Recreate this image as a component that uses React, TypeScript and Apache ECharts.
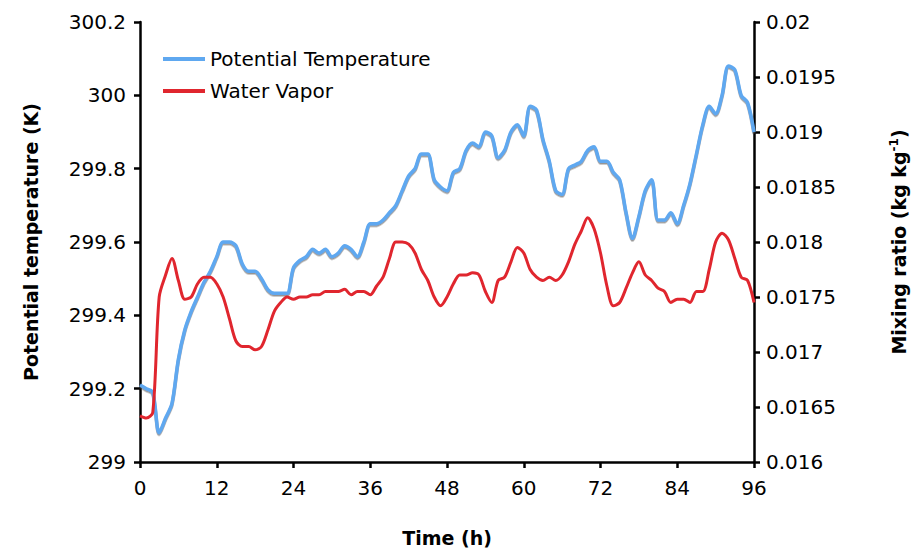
import React, { useEffect, useRef } from "react";
import * as echarts from "echarts";

const hours = Array.from({ length: 97 }, (_, i) => i);

const potentialTemp = [
  299.21, 299.2, 299.19, 299.08, 299.12, 299.16, 299.28, 299.36, 299.41, 299.45,
  299.49, 299.52, 299.56, 299.6, 299.6, 299.59, 299.54, 299.52, 299.52, 299.5,
  299.47, 299.46, 299.46, 299.46, 299.53, 299.55, 299.56, 299.58, 299.57, 299.58,
  299.56, 299.57, 299.59, 299.58, 299.56, 299.6, 299.65, 299.65, 299.66, 299.68,
  299.7, 299.74, 299.78, 299.8, 299.84, 299.84, 299.77, 299.75, 299.74, 299.79,
  299.8, 299.85, 299.87, 299.86, 299.9, 299.89, 299.83, 299.85, 299.9, 299.92,
  299.89, 299.97, 299.96, 299.88, 299.82, 299.74, 299.73, 299.8, 299.81, 299.82,
  299.85, 299.86, 299.82, 299.82, 299.79, 299.77, 299.68, 299.61, 299.67, 299.74,
  299.77, 299.66, 299.66, 299.68, 299.65, 299.7, 299.76, 299.84, 299.92, 299.97,
  299.95, 300.0, 300.08, 300.07, 300.0, 299.98, 299.9,
];

const waterVapor = [
  0.01642, 0.0164, 0.01645, 0.0175, 0.0177, 0.01785, 0.01765, 0.01748, 0.0175, 0.01762,
  0.01768, 0.01768, 0.01762, 0.0175, 0.0173, 0.0171, 0.01705, 0.01705, 0.01702, 0.01705,
  0.0172, 0.01737, 0.01745, 0.0175, 0.01748, 0.0175, 0.0175, 0.01752, 0.01752, 0.01755,
  0.01755, 0.01755, 0.01757, 0.01752, 0.01755, 0.01755, 0.01752, 0.0176, 0.01768, 0.01785,
  0.018, 0.018, 0.01798, 0.0179, 0.01775, 0.01765, 0.0175, 0.01742, 0.0175, 0.01762,
  0.0177, 0.0177, 0.01772, 0.0177, 0.01755, 0.01745, 0.01765, 0.01768, 0.01782, 0.01795,
  0.0179, 0.01775, 0.01768, 0.01765, 0.01768, 0.01765, 0.0177, 0.01782, 0.01798, 0.0181,
  0.01822, 0.01812, 0.0179, 0.0176, 0.01742, 0.01745, 0.01758, 0.01772, 0.01782, 0.0177,
  0.01765, 0.01758, 0.01755, 0.01745, 0.01748, 0.01748, 0.01745, 0.01755, 0.01755, 0.01775,
  0.018, 0.01808, 0.01802, 0.01785, 0.01768, 0.01765, 0.01745,
];

const font = "DejaVu Sans, Verdana, sans-serif";
const axisLine = { show: true, lineStyle: { color: "#000", width: 2.5 } };
const axisTick = { show: true, length: 6, lineStyle: { color: "#000", width: 2.5 } };
const axisLabel = { color: "#000", fontSize: 20, fontFamily: font };
const nameStyle = { color: "#000", fontSize: 19, fontWeight: "bold" as const, fontFamily: font };

const App: React.FC = () => {
  const chartRef = useRef<HTMLDivElement>(null);

  useEffect(() => {
    const chart = echarts.init(chartRef.current!, undefined, { renderer: "svg" });
    chart.setOption({
      animation: false,
      backgroundColor: "#fff",
      textStyle: { fontFamily: font },
      grid: { left: 140, right: 160, top: 22, bottom: 93, outerBoundsMode: "none" },
      legend: {
        left: 158,
        top: 44,
        orient: "vertical",
        itemGap: 12,
        itemWidth: 42,
        itemHeight: 4,
        icon: "rect",
        textStyle: { color: "#000", fontSize: 20, fontFamily: font },
        data: ["Potential Temperature", "Water Vapor"],
      },
      xAxis: {
        type: "value",
        min: 0,
        max: 96,
        interval: 12,
        name: "Time (h)",
        nameLocation: "middle",
        nameGap: 66,
        nameTextStyle: nameStyle,
        axisLine,
        axisTick,
        axisLabel: { ...axisLabel, margin: 16 },
        splitLine: { show: false },
      },
      yAxis: [
        {
          type: "value",
          min: 299,
          max: 300.2,
          interval: 0.2,
          name: "Potential temperature (K)",
          nameLocation: "middle",
          nameRotate: 90,
          nameGap: 100,
          nameTextStyle: nameStyle,
          axisLine,
          axisTick,
          axisLabel: { ...axisLabel, margin: 14, formatter: (v: number) => String(Math.round(v * 10) / 10) },
          splitLine: { show: false },
        },
        {
          type: "value",
          min: 0.016,
          max: 0.02,
          interval: 0.0005,
          position: "right",
          name: "{n|Mixing ratio (kg kg}{s|-1}{n|)}",
          nameLocation: "middle",
          nameRotate: 90,
          nameGap: 134,
          nameTextStyle: {
            ...nameStyle,
            rich: {
              n: { ...nameStyle },
              s: { ...nameStyle, fontSize: 12, verticalAlign: "top", padding: [0, 0, 10, 0] },
            },
          },
          axisLine,
          axisTick,
          axisLabel: { ...axisLabel, margin: 12, formatter: (v: number) => String(Math.round(v * 10000) / 10000) },
          splitLine: { show: false },
        },
      ],
      series: [
        {
          name: "Potential Temperature",
          type: "line",
          yAxisIndex: 0,
          showSymbol: false,
          smooth: 0.3,
          data: hours.map((h, i) => [h, potentialTemp[i]]),
          lineStyle: {
            color: "#5fa8f0",
            width: 3.5,
            shadowColor: "rgba(80,80,80,0.6)",
            shadowOffsetY: 1.5,
            shadowBlur: 1,
          },
          itemStyle: { color: "#5fa8f0" },
        },
        {
          name: "Water Vapor",
          type: "line",
          yAxisIndex: 1,
          showSymbol: false,
          smooth: 0.3,
          data: hours.map((h, i) => [h, waterVapor[i]]),
          lineStyle: { color: "#e0262e", width: 3 },
          itemStyle: { color: "#e0262e" },
        },
      ],
    });
    return () => {
      chart.dispose();
    };
  }, []);

  return (
    <div
      ref={chartRef}
      style={{ position: "fixed", left: 0, top: 0, width: 914, height: 555 }}
    />
  );
};

export default App;
